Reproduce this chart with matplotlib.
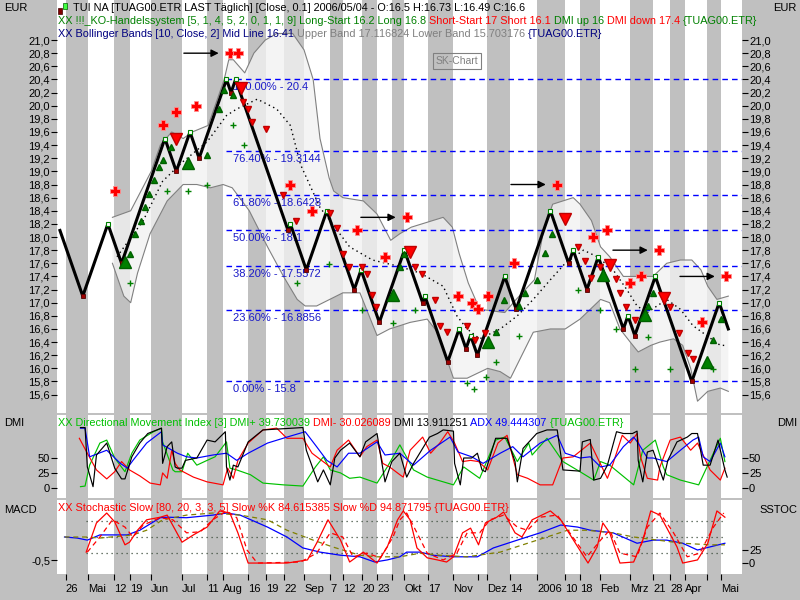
import matplotlib
matplotlib.use('Agg')
import numpy as np
import matplotlib.pyplot as plt
from matplotlib.patches import Rectangle
from matplotlib.ticker import FuncFormatter

plt.rcParams['font.family'] = ['Liberation Sans', 'DejaVu Sans']
plt.rcParams['font.size'] = 8

# ---------------- data (x = renko brick number) ----------------
box = 0.1
renko_pivots = [18.1, 17.1, 18.2, 17.6, 19.5, 19.0, 19.6, 19.2, 20.4, 20.2,
                20.4, 18.1, 18.2, 17.5, 18.4, 17.2, 17.5, 16.7, 17.8, 17.0,
                17.1, 16.1, 16.6, 16.3, 16.5, 16.2, 17.4, 16.9, 18.4, 17.6,
                17.8, 17.2, 17.7, 16.6, 16.8, 16.5, 17.4, 15.8, 17.0, 16.6]

bb_upper_x = [23, 31, 40, 44, 49, 54, 58, 65, 69, 72, 74, 76, 81, 85, 90, 95, 102, 107,
              111, 114, 118, 120, 124, 133, 139, 145, 149, 154, 168, 172, 175, 179, 184,
              195, 200, 208, 212, 216, 225, 228, 233, 237, 241, 247, 254, 260, 266, 272,
              277, 281, 284, 288, 293]
bb_upper = [18.3, 18.4, 19.0, 19.4, 19.6, 19.5, 19.6, 19.7, 20.1, 20.4, 20.7, 20.7, 20.5,
            20.8, 21.0, 21.1, 21.1, 20.85, 20.4, 19.5, 18.9, 18.7, 18.6, 18.55, 18.35,
            17.95, 18.05, 18.15, 18.3, 18.15, 17.75, 17.3, 16.9, 16.85, 17.05, 17.35, 18.1,
            18.5, 18.6, 18.5, 18.25, 17.85, 17.7, 17.4, 17.4, 17.4, 17.6, 17.65, 17.65,
            17.5, 17.25, 17.05, 17.1]
bb_lower_x = [23, 28, 31, 34, 39.5, 47, 54, 60, 66, 71.5, 75.5, 83, 91, 98, 104, 107.5,
              112.5, 124, 131.5, 139, 144.5, 153.5, 161, 165.5, 169.5, 172.5, 178.5, 187.5,
              193, 197.5, 207.5, 215, 221.5, 228, 237, 241, 245.5, 250, 253.5, 259, 263,
              269, 273, 276.5, 279.5, 284, 289.5, 293]
bb_lower = [17.6, 17.1, 17.0, 17.45, 18.05, 18.55, 18.8, 18.8, 18.75, 18.8, 18.75, 18.4,
            17.85, 17.4, 17.05, 16.95, 16.95, 17.15, 17.15, 16.5, 16.6, 16.7, 16.75, 16.55,
            16.15, 15.85, 15.85, 16.0, 15.95, 15.85, 16.55, 16.6, 16.6, 16.75, 17.05, 17.0,
            16.6, 16.4, 16.25, 16.35, 16.4, 16.45, 16.35, 16.0, 15.5, 15.65, 15.7, 15.65]
bb_mid_x = [25, 36.5, 45, 54, 64.5, 73, 77.5, 86.5, 95, 101, 105.5, 114, 127, 137, 149,
            158, 168, 174, 178.5, 184, 193, 200.5, 207.5, 215, 221.5, 229.5, 235.5, 242.5,
            248.5, 253, 257.5, 266, 272, 277.5, 281.5, 289.5, 292]
bb_mid = [17.7, 18.25, 18.85, 19.15, 19.45, 19.85, 19.95, 20.1, 19.95, 19.7, 19.1, 18.45,
          17.85, 17.65, 17.55, 17.45, 17.25, 16.8, 16.6, 16.45, 16.6, 16.8, 17.05, 17.35,
          17.6, 17.8, 17.7, 17.5, 17.2, 16.95, 16.85, 17.05, 16.9, 16.65, 16.55, 16.35, 16.35]

fib_pct = [100, 76.4, 61.8, 50, 38.2, 23.6, 0]
fib_val = [20.4, 19.3144, 18.6428, 18.1, 17.5572, 16.8856, 15.8]

cross_x = [24.1, 45.2, 50.9, 59.6, 74.6, 78.1, 100.9, 110.5, 130.3, 142.5, 152.2, 174.6,
           180.7, 183.3, 187.7, 199.1, 218.0, 233.8, 239.9, 250.0, 254.8, 262.7, 281.6, 292.1]
cross_p = [18.7, 19.7, 19.9, 20.0, 20.8, 20.8, 18.8, 18.4, 18.1, 17.7, 18.3, 17.1,
           17.0, 16.9, 17.1, 17.6, 18.8, 18.0, 18.1, 17.3, 17.4, 17.8, 16.7, 17.4]
arrow_x = [74.6, 152.2, 218.0, 262.7, 292.1]
arrow_p = [20.8, 18.3, 18.8, 17.8, 17.4]

short_big_x = [79.4, 50.9, 153.5, 221.5, 241.2, 264.9]
short_big_p = [20.27, 19.49, 17.77, 18.28, 17.58, 17.07]
short_x = [80.3, 82.5, 84.2, 90.4, 97.8, 103.5, 118.4, 121.5, 124.1, 126.8, 132.5, 134.6,
           136.8, 138.6, 155.7, 158.8, 164.5, 166.7, 169.7, 178.5, 182.0, 186.4, 227.2,
           230.3, 232.9, 236.8, 243.9, 245.6, 248.2, 252.2, 267.5, 271.5, 275.4, 277.6]
short_p = [20.06, 19.95, 19.75, 19.65, 18.64, 18.24, 18.37, 18.14, 17.74, 17.54, 17.54,
           17.44, 17.12, 16.94, 17.54, 17.44, 17.04, 16.65, 16.56, 16.65, 16.43, 16.54,
           17.85, 17.64, 17.38, 17.54, 17.36, 17.15, 16.94, 16.74, 16.94, 16.54, 16.24, 16.14]
long_big_x = [28.5, 56.1, 146.0, 187.7, 238.2, 256.6, 283.8]
long_big_p = [17.62, 19.13, 17.12, 16.40, 17.42, 16.81, 16.10]
long_x = [30.7, 32.9, 35.5, 37.3, 39.0, 41.2, 43.4, 45.2, 48.7, 64.5, 69.7, 71.9, 75.9,
          149.1, 150.9, 191.2, 194.7, 201.3, 203.9, 209.2, 212.7, 215.8, 257.9, 260.1,
          286.4, 289.9]
long_p = [17.74, 18.05, 18.25, 18.46, 18.66, 18.87, 19.07, 19.17, 19.37, 19.25, 19.95,
          20.24, 20.16, 17.54, 17.74, 16.56, 17.04, 16.95, 17.15, 17.35, 17.76, 18.05,
          16.95, 17.15, 16.43, 16.75]
stop_x = [30.7, 46.9, 56.1, 64.5, 75.9, 80.7, 103.9, 118.0, 132.5, 146.0, 155.7, 178.5,
          181.6, 186.8, 191.2, 201.3, 227.2, 236.8, 243.9, 257.9, 252.2, 267.5, 286.4]
stop_p = [17.30, 18.70, 18.70, 18.79, 19.71, 19.40, 17.30, 17.59, 16.89, 16.69, 16.89,
          15.78, 15.69, 15.87, 16.10, 16.49, 17.19, 16.89, 16.60, 16.48, 15.99, 15.99, 15.99]

dmi_x_black = [9, 11, 12, 14.5, 16, 20.5, 24, 27, 28.5, 31.5, 35, 38.5, 44.5, 45, 47, 49,
               50.5, 51.5, 53.5, 55, 60, 64.5, 68, 72.5, 73, 74.5, 76, 78, 82.5, 89, 106.5,
               108, 113, 115.5, 118.5, 120.5, 123, 127, 131.5, 134, 139, 142.5, 145.5, 149,
               152, 155, 162, 165.5, 168, 172.5, 173, 175.5, 177, 180.5, 183, 185, 186.5,
               191, 196, 199.5, 200.5, 203, 209, 213.5, 218, 220.5, 228, 229, 232.5, 234,
               237, 240, 244, 247, 251, 253, 253.5, 255.5, 256.5, 257.5, 260, 264.5, 266.5,
               270.5, 275, 277, 279.5, 282, 285, 288.5, 291.5, 292.5]
dmi_black = [101, 101, 35, 2, 55, 75, 33, 15, 15, 52, 75, 91, 100, 41, 69, 77, 35, 33, 33,
             46, 50, 80, 77, 94, 35, 13, 38, 35, 77, 97, 101, 63, 10, 30, 5, 50, 63, 75, 52,
             77, 91, 10, 44, 58, 18, 41, 85, 91, 97, 95, 41, 5, 50, 50, 58, 30, 27, 83, 83,
             44, 10, 66, 91, 97, 97, 30, 28, 77, 81, 13, 16, 38, 94, 91, 91, 95, 46, 10, 35,
             60, 63, 13, 46, 77, 85, 91, 91, 38, 38, 80, 30, 18]
dmi_x_minus = [8.5, 12, 16, 20.5, 24, 27, 30.5, 35, 39.5, 44, 45, 47, 49, 50.5, 52.5, 58.5,
               64.5, 71.5, 73.5, 76, 78, 82.5, 89, 95, 99.5, 106.5, 110.5, 118.5, 121.5,
               126.5, 131.5, 134.5, 139, 141.5, 144.5, 149, 150.5, 153.5, 159, 162.5, 166.5,
               170, 173, 176.5, 180, 183.5, 187.5, 192, 196, 200.5, 205, 210.5, 216, 220.5,
               225, 232.5, 240, 242.5, 246.5, 250, 253, 254.5, 257.5, 262, 263, 267.5, 272,
               276.5, 279.5, 285, 289.5, 291.5]
dmi_minus = [83, 58, 30, 15, 27, 44, 30, 20, 8, 5, 25, 16, 63, 41, 30, 18, 10, 5, 33, 16,
             46, 75, 97, 100, 83, 83, 58, 35, 63, 80, 52, 69, 80, 41, 35, 22, 18, 63, 85, 58,
             75, 94, 75, 44, 46, 44, 30, 75, 88, 22, 16, 5, 5, 50, 52, 75, 16, 41, 88, 75, 91,
             52, 16, 13, 35, 80, 85, 63, 75, 30, 13, 33]
dmi_x_plus = [9, 11, 13, 17.5, 20.5, 24, 28.5, 31.5, 35, 41, 44.5, 45, 49.5, 50.5, 53.5, 56,
              60, 64.5, 68, 73, 74.5, 77.5, 83.5, 89, 98, 106.5, 112, 115.5, 118.5, 123, 127,
              131.5, 139, 143.5, 149, 155, 161, 172.5, 177, 184, 191, 195, 200.5, 205.5, 207,
              213.5, 220.5, 228, 234, 237, 241, 251.5, 255.5, 261, 264.5, 266, 272, 280, 285,
              289.5, 291.5]
dmi_plus = [2, 3, 38, 75, 80, 50, 27, 58, 80, 94, 100, 77, 30, 27, 27, 58, 38, 46, 52, 77,
            33, 30, 22, 8, 5, 3, 35, 52, 30, 25, 16, 18, 8, 35, 72, 30, 18, 5, 35, 16, 80, 85,
            44, 75, 55, 83, 44, 27, 13, 44, 38, 5, 63, 80, 35, 22, 13, 5, 46, 83, 44]
adx_x = [9, 11, 13, 20.5, 26.5, 29.5, 32, 38, 44.5, 45, 51.5, 55.5, 60, 67, 73, 77.5, 82.5,
         91, 99.5, 107.5, 112.5, 117, 121.5, 126.5, 131.5, 139, 142.5, 149, 155, 162.5, 171,
         174.5, 180.5, 185.5, 193, 198.5, 203, 210.5, 218, 221.5, 228, 232.5, 237, 241, 247,
         251.5, 253.5, 257.5, 260, 266, 272, 277.5, 280, 282, 285, 289.5, 291.5]
adx = [100, 100, 52, 63, 41, 33, 46, 75, 94, 72, 58, 52, 50, 55, 58, 46, 58, 75, 85, 94, 69,
       46, 35, 58, 58, 77, 55, 58, 38, 63, 85, 60, 52, 41, 58, 69, 52, 75, 88, 58, 50, 52, 35,
       38, 69, 85, 75, 50, 50, 44, 63, 80, 85, 52, 44, 75, 52]

stk_x = [11.5, 16, 20.5, 24, 28.5, 30.5, 34, 38, 44, 47, 53.5, 58.5, 64.5, 70, 74.5, 78,
         82.5, 89, 99.5, 108.5, 112.5, 117.5, 123, 127, 133, 139, 143.5, 148, 150.5, 153.5,
         156.5, 161, 165.5, 169.5, 172.5, 176.5, 180, 183.5, 186.5, 191.5, 194.5, 199.5,
         202.5, 207, 215, 219.5, 227, 231.5, 235.5, 238, 241, 245.5, 251.5, 255.5, 259, 263,
         270.5, 273, 279.5, 284, 288, 291.5]
stk_k = [21, 77, 96, 79, 35, 40, 63, 83, 88, 92, 40, 54, 69, 100, 96, 58, 0, 0, 0, 6, 38,
         83, 44, 2, 21, 0, 31, 83, 100, 83, 29, 10, 6, 2, 12, 58, 67, 35, 77, 88, 98, 58, 50,
         83, 100, 83, 31, 0, 31, 77, 58, 0, 2, 44, 100, 92, 31, 0, 6, 38, 100, 88]
std_x = [12, 17.5, 23, 28.5, 32, 36.5, 44, 49.5, 55.5, 61.5, 67, 73, 77.5, 82, 86.5, 105.5,
         112.5, 118.5, 124, 128.5, 134.5, 140.5, 146, 149, 152, 156.5, 161, 168, 174, 178.5,
         184, 188.5, 194.5, 200.5, 205, 210.5, 218, 223.5, 231, 237, 241, 245.5, 253, 257.5,
         263, 269, 275, 280.5, 286.5, 291]
std_d = [21, 50, 83, 69, 50, 73, 87, 83, 58, 60, 83, 100, 87, 25, 0, 2, 19, 58, 50, 12, 19,
         10, 50, 83, 96, 58, 19, 6, 19, 58, 58, 83, 92, 69, 63, 88, 92, 58, 12, 44, 63, 19,
         12, 69, 96, 58, 12, 19, 69, 96]
macd_x = [2, 7.5, 12, 17.5, 29.5, 35, 44, 47, 55.5, 67, 73, 79, 91, 99.5, 106.5, 114, 123,
          131.5, 138, 143.5, 149, 152, 158, 163.5, 172.5, 183, 190, 200.5, 210.5, 219.5, 227,
          232.5, 242.5, 253, 260, 266, 273, 279.5, 285, 291.5]
macd = [50, 48, 44, 54, 54, 63, 87, 88, 87, 92, 96, 92, 69, 50, 29, 21, 15, 12, 2, 6, 12,
        21, 21, 15, 12, 12, 29, 44, 58, 73, 69, 63, 58, 38, 44, 44, 38, 25, 31, 38]
signal_x = [2, 11, 17.5, 32, 38, 45, 55.5, 67, 79, 91, 99.5, 111, 119.5, 131.5, 139, 149,
            158, 166.5, 178.5, 193, 205, 213.5, 222.5, 231, 242.5, 251.5, 262, 273, 285, 291.5]
signal = [50, 50, 48, 54, 63, 83, 92, 96, 92, 83, 63, 44, 31, 15, 12, 12, 19, 15, 12, 21,
          38, 50, 63, 63, 58, 50, 44, 38, 35, 35]
stoch_levels = [80, 50, 20]

tick_pos = [2.6, 12.3, 23.7, 30.7, 39.9, 53.5, 64.5, 71.5, 82.5, 90.4, 98.2, 107.0, 118.4,
            124.1, 132.5, 139.0, 145.6, 150.9, 161.4, 172.4, 183.3, 187.3, 197.4, 209.2,
            221.5, 228.1, 236.8, 250.0, 260.1, 267.5, 274.1, 283.8, 289.9]
tick_lab = ['26', 'Mai', '12', '19', 'Jun', 'Jul', '11', 'Aug', '16', '19', '22', 'Sep',
            '7', '12', '20', '23', '', 'Okt', '17', 'Nov', '', 'Dez', '14', '2006', '10',
            '18', 'Feb', 'Mrz', '21', '28', 'Apr', '', 'Mai']
stripe_edges = [p for p in tick_pos if p != 183.3]

# ---------------- figure ----------------
GREY = '#c0c0c0'
GREEN = '#008000'
LIME = '#00c000'
RED = '#ff0000'
NAVY = '#000080'

fig = plt.figure(figsize=(8, 6), dpi=100)
fig.patch.set_facecolor(GREY)


def panel(top, bottom):
    a = fig.add_axes([57 / 800, 1 - bottom / 600, 685 / 800, (bottom - top) / 600])
    a.set_facecolor('white')
    a.set_xlim(-1.3, 299)
    for s in a.spines.values():
        s.set_visible(False)
    for x0, x1 in zip(stripe_edges[0::2], stripe_edges[1::2]):
        a.axvspan(x0, x1, color=GREY, lw=0, zorder=0)
    a.tick_params(axis='x', bottom=False, labelbottom=False)
    a.tick_params(axis='y', direction='out', length=4, pad=1, labelsize=8,
                  left=True, right=True, labelleft=True, labelright=True)
    return a


comma = FuncFormatter(lambda v, _: f'{v:.1f}'.replace('.', ','))

# main price panel
ax = panel(0, 413)
ax.set_ylim(15.32, 21.61)
ax.set_yticks(np.round(np.arange(15.6, 21.01, 0.2), 1))
ax.yaxis.set_major_formatter(comma)

ax.fill(np.r_[bb_upper_x, bb_lower_x[::-1]], np.r_[bb_upper, bb_lower[::-1]],
        color='#f2f2f2', alpha=0.8, lw=0, zorder=1)
ax.plot(bb_upper_x, bb_upper, color='#808080', lw=0.8, zorder=2)
ax.plot(bb_lower_x, bb_lower, color='#808080', lw=0.8, zorder=2)
ax.plot(bb_mid_x, bb_mid, color='black', lw=1, ls=(0, (1, 2.5)), zorder=3)

steps = np.round(np.abs(np.diff(renko_pivots)) / box).astype(int)
renko_x = np.concatenate([[0], np.cumsum(steps)])
renko_p = np.array(renko_pivots)

x_top = renko_x[np.argmax(renko_p)]
for pct, val in zip(fib_pct, fib_val):
    ax.hlines(val, x_top, 299, colors='#0000ff', linestyles=(0, (4, 3)), lw=1, zorder=3)
    ax.annotate(f'{pct:.2f}% - {val:g}', (x_top + 3, val), xytext=(0, -2),
                textcoords='offset points', va='top', ha='left', color='#1a1ac8',
                fontsize=8, zorder=4)

ax.plot(renko_x, renko_p, color='black', lw=2.2, zorder=5)
peaks = np.r_[False, (renko_p[1:-1] > renko_p[:-2]) & (renko_p[1:-1] > renko_p[2:]), False]
troughs = np.r_[False, (renko_p[1:-1] < renko_p[:-2]) & (renko_p[1:-1] < renko_p[2:]), False]
ax.plot(renko_x[peaks], renko_p[peaks], 's', ms=3.2, mfc='white', mec='#008000', mew=0.8,
        zorder=6)
ax.plot(renko_x[troughs], renko_p[troughs], 's', ms=3.2, mfc='#a00000', mec='#500000',
        mew=0.6, zorder=6)

ax.plot(stop_x, stop_p, '+', ms=4.5, mew=1, color=GREEN, zorder=6)
ax.plot(long_x, long_p, '^', ms=5, color=GREEN, mec='#006000', zorder=6)
ax.plot(long_big_x, long_big_p, '^', ms=9, color=GREEN, mec='#006000', zorder=6)
ax.plot(short_x, short_p, 'v', ms=5, color=RED, mec='#c00000', zorder=6)
ax.plot(short_big_x, short_big_p, 'v', ms=9, color=RED, mec='#c00000', zorder=6)
ax.plot(cross_x, cross_p, 'P', ms=7.5, color=RED, mec='#ff9090', mew=0.6, zorder=7)

for xa, pa in zip(arrow_x, arrow_p):
    ax.annotate('', xy=(xa - 3.8, pa), xytext=(xa - 21.5, pa),
                arrowprops=dict(arrowstyle='-|>', color='black', lw=1, mutation_scale=11),
                zorder=7)

# DMI panel
ax_dmi = panel(415, 498)
ax_dmi.set_ylim(-17, 122)
ax_dmi.set_yticks([0, 25, 50])
ax_dmi.plot(dmi_x_plus, dmi_plus, color=LIME, lw=0.85, zorder=3)
ax_dmi.plot(dmi_x_minus, dmi_minus, color=RED, lw=0.85, zorder=3)
ax_dmi.plot(adx_x, adx, color='#0000ff', lw=0.85, zorder=3)
ax_dmi.plot(dmi_x_black, dmi_black, color='black', lw=0.85, zorder=4)

# stochastic / macd panel
ax_st = panel(500, 574)
ax_st.set_ylim(-21, 121)
ax_st.set_yticks([0, 25])
ax_st.hlines(stoch_levels, stk_x[0], stk_x[-1], colors='#405040', linestyles=(0, (1, 3)),
             lw=0.9, zorder=2)
ax_st.plot(macd_x, macd, color='#0000ff', lw=0.9, zorder=3)
ax_st.plot(signal_x, signal, color='#808000', lw=0.9, ls=(0, (4, 3)), zorder=3)
ax_st.plot(std_x, std_d, color=RED, lw=0.9, ls=(0, (4, 3)), zorder=4)
ax_st.plot(stk_x, stk_k, color=RED, lw=0.9, zorder=4)

ax_macd = ax_st.twinx()
ax_macd.set_ylim(-0.7, 0.36)
ax_macd.set_yticks([-0.5])
ax_macd.yaxis.set_major_formatter(comma)
for s in ax_macd.spines.values():
    s.set_visible(False)
ax_macd.tick_params(axis='y', right=False, labelright=False, left=True, labelleft=True,
                    direction='out', length=4, pad=1, labelsize=8)
ax_st.tick_params(axis='y', left=False, labelleft=False, right=True, labelright=True)

ax_st.set_xticks(tick_pos)
ax_st.set_xticklabels(tick_lab)
ax_st.tick_params(axis='x', bottom=True, labelbottom=True, direction='out', length=4,
                  pad=3, labelsize=8)
for lbl in ax_st.get_xticklabels():
    lbl.set_horizontalalignment('left')

# ---------------- texts ----------------
renderer = fig.canvas.get_renderer()


def color_line(x_px, y_px, parts, size=7.8):
    x = x_px / 800
    for s, c in parts:
        t = fig.text(x, 1 - y_px / 600, s, color=c, va='center', ha='left', fontsize=size)
        x = t.get_window_extent(renderer=renderer).x1 / fig.bbox.width


color_line(73, 8, [('TUI NA [TUAG00.ETR LAST Täglich] [Close, 0.1] 2006/05/04 - '
                    'O:16.5 H:16.73 L:16.49 C:16.6', 'black')])
color_line(58, 21, [('XX !!!_KO-Handelssystem [5, 1, 4, 5, 2, 0, 1, 1, 9] Long-Start 16.2 '
                     'Long 16.8 ', GREEN), ('Short-Start 17 Short 16.1 ', RED),
                    ('DMI up 16 ', GREEN), ('DMI down 17.4 ', RED), ('{TUAG00.ETR}', GREEN)])
color_line(58, 34, [('XX Bollinger Bands [10, Close, 2] Mid Line 16.41 ', NAVY),
                    ('Upper Band 17.116824 Lower Band 15.703176 ', '#808080'),
                    ('{TUAG00.ETR}', NAVY)])
color_line(58, 423, [('XX Directional Movement Index [3] DMI+ 39.730039 ', LIME),
                     ('DMI- 30.026089 ', RED), ('DMI 13.911251 ', 'black'),
                     ('ADX 49.444307 ', '#0000ff'), ('{TUAG00.ETR}', LIME)])
color_line(58, 508, [('XX Stochastic Slow [80, 20, 3, 3, 5] Slow %K 84.615385 '
                      'Slow %D 94.871795 {TUAG00.ETR}', RED)])

fig.add_artist(Rectangle((58 / 800, 1 - 14 / 600), 4 / 800, 6 / 600, transform=fig.transFigure,
                         facecolor='#800000', edgecolor='#400000', lw=0.5))
fig.add_artist(Rectangle((63 / 800, 1 - 9 / 600), 4 / 800, 6 / 600, transform=fig.transFigure,
                         facecolor='#40ff40', edgecolor='#006000', lw=0.5))

fig.text(4 / 800, 1 - 8 / 600, 'EUR', va='center', ha='left', fontsize=8)
fig.text(4 / 800, 1 - 423 / 600, 'DMI', va='center', ha='left', fontsize=8)
fig.text(4 / 800, 1 - 510 / 600, 'MACD', va='center', ha='left', fontsize=8)
fig.text(797 / 800, 1 - 8 / 600, 'EUR', va='center', ha='right', fontsize=8)
fig.text(797 / 800, 1 - 423 / 600, 'DMI', va='center', ha='right', fontsize=8)
fig.text(797 / 800, 1 - 510 / 600, 'SSTOC', va='center', ha='right', fontsize=8)

fig.text(457 / 800, 1 - 61 / 600, 'SK-Chart', color='#808080', ha='center', va='center',
         fontsize=7.5, bbox=dict(boxstyle='square,pad=0.25', fc='none', ec='#808080', lw=0.8))

fig.savefig('out.png', dpi=100, facecolor=fig.get_facecolor())
